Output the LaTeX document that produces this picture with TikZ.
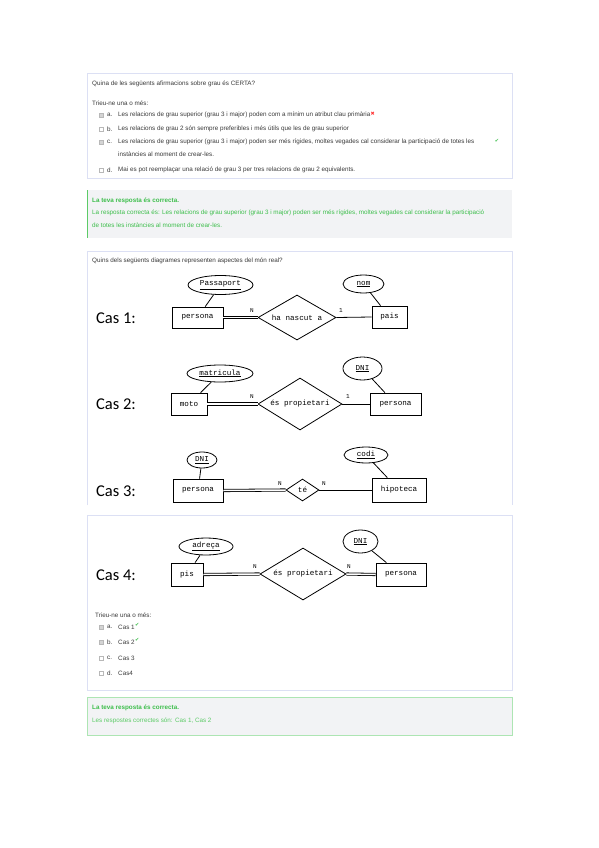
\documentclass[tikz,border=0pt]{standalone}
\usepackage{fontspec}
\setmainfont{Liberation Sans}
\setmonofont{Liberation Mono}
\newfontfamily\casfont{Carlito}
\newfontfamily\symfont{DejaVu Sans}
\usetikzlibrary{shapes.geometric}
\definecolor{qborder}{HTML}{DCE0F4}
\definecolor{fbfill}{HTML}{F2F3F5}
\definecolor{okgreen}{HTML}{3DBE4B}
\definecolor{okgreenlight}{HTML}{5CCB67}
\definecolor{uitext}{HTML}{3A3A3A}
\definecolor{boxgrey}{HTML}{B8B8B8}
\tikzset{
  ui/.style={anchor=west, inner sep=0pt, font=\fontsize{6.3}{7}\selectfont, text=uitext},
  uig/.style={anchor=west, inner sep=0pt, font=\fontsize{6.3}{7}\selectfont, text=okgreen},
  uigb/.style={anchor=west, inner sep=0pt, font=\bfseries\fontsize{6.3}{7}\selectfont, text=okgreen},
  chk/.style={draw=boxgrey, fill=#1, line width=0.3pt, minimum size=3.6pt, inner sep=0pt},
  ent/.style={draw, line width=0.8pt, inner sep=0pt, font=\ttfamily\fontsize{7.6}{8}\selectfont},
  attr/.style={draw, ellipse, line width=0.8pt, inner sep=0pt, font=\ttfamily\fontsize{7.6}{8}\selectfont},
  rel/.style={draw, diamond, aspect=1.6, line width=0.8pt, inner sep=0pt, font=\ttfamily\fontsize{7.6}{8}\selectfont},
  dbl/.style={double, double distance=1.5pt, line width=0.8pt},
  sgl/.style={line width=0.8pt},
  card/.style={inner sep=0pt, font=\ttfamily\fontsize{6}{6}\selectfont},
  cas/.style={anchor=west, inner sep=0pt, font=\casfont\fontsize{16.5}{18}\selectfont},
  tick/.style={inner sep=0pt, text=okgreen, font=\symfont\fontsize{5}{5}\selectfont},
  cross/.style={inner sep=0pt, text=red!80!white, font=\symfont\fontsize{5}{5}\selectfont}
}
\begin{document}
\begin{tikzpicture}[x=1pt,y=-1pt]
\useasboundingbox[fill=white] (0,0) rectangle (599,848);

% ---------------- Question 1 ----------------
\draw[qborder, line width=0.8pt] (87,73) rectangle (512,178);
\node[ui] (q1) at (92,84) {Quina de les següents afirmacions sobre grau és CERTA?};
\node[ui] (q1t) at (92,103) {Trieu-ne una o més:};
\node[chk=boxgrey!60] (c1a) at (101,115) {};
\node[ui] (l1a) at (107,115) {a.};
\node[ui] (o1a) at (118,115) {Les relacions de grau superior (grau 3 i major) poden com a mínim un atribut clau primària};
\node[cross, anchor=west] (x1a) at ([yshift=1.5pt]o1a.east) {✖};
\node[chk=white] (c1b) at (101,129) {};
\node[ui] (l1b) at (107,129) {b.};
\node[ui] (o1b) at (118,129) {Les relacions de grau 2 són sempre preferibles i més útils que les de grau superior};
\node[chk=boxgrey!60] (c1c) at (101,142) {};
\node[ui] (l1c) at (107,142) {c.};
\node[ui] (o1c) at (118,142) {Les relacions de grau superior (grau 3 i major) poden ser més rígides, moltes vegades cal considerar la participació de totes les};
\node[ui] (o1c2) at (118,154) {instàncies al moment de crear-les.};
\node[tick] (t1c) at (497,141) {✔};
\node[chk=white] (c1d) at (101,170) {};
\node[ui] (l1d) at (107,170) {d.};
\node[ui] (o1d) at (118,170) {Mai es pot reemplaçar una relació de grau 3 per tres relacions de grau 2 equivalents.};

% feedback 1
\fill[fbfill] (87,190) rectangle (512,238);
\draw[okgreenlight, line width=1pt] (87.5,190) -- (87.5,238);
\node[uigb] (f1t) at (92,201) {La teva resposta és correcta.};
\node[uig] (f1a) at (92,213) {La resposta correcta és: Les relacions de grau superior (grau 3 i major) poden ser més rígides, moltes vegades cal considerar la participació};
\node[uig] (f1b) at (92,225) {de totes les instàncies al moment de crear-les.};

% ---------------- Question 2 ----------------
\draw[qborder, line width=0.8pt] (87,505) -- (87,251) -- (512,251) -- (512,505);
\draw[qborder, line width=0.8pt] (87,515) rectangle (512,690);
\node[ui] (q2) at (92,261) {Quins dels següents diagrames representen aspectes del món real?};

% Cas 1
\node[cas] (cas1) at (96,318) {Cas 1:};
\node[ent, minimum width=51pt, minimum height=21pt] (p1) at (197.5,317.5) {persona};
\node[attr, minimum width=65pt, minimum height=19pt] (a1) at (220.5,285) {\underline{Passaport}};
\node[rel, minimum width=78pt, minimum height=45pt] (r1) at (297,317.5) {ha nascut a};
\node[ent, minimum width=35pt, minimum height=22pt] (e1) at (389.5,317) {pais};
\node[attr, minimum width=41pt, minimum height=18pt] (b1) at (363.5,284) {\underline{nom}};
\node[card] (n1) at (252,311) {N};
\node[card] (m1) at (341,311) {1};
\draw[sgl] (a1) -- (p1);
\draw[sgl] (b1) -- (e1);
\draw[dbl] (p1.east) -- (r1.west);
\draw[sgl] (r1.east) -- (e1.west);

% Cas 2
\node[cas] (cas2) at (96,404) {Cas 2:};
\node[ent, minimum width=36pt, minimum height=22pt] (p2) at (189,404) {moto};
\node[attr, minimum width=66pt, minimum height=17pt] (a2) at (220,373.5) {\underline{matricula}};
\node[rel, minimum width=84pt, minimum height=52pt] (r2) at (300,404) {és propietari};
\node[ent, minimum width=51pt, minimum height=22pt] (e2) at (395.5,404) {persona};
\node[attr, minimum width=39pt, minimum height=23pt] (b2) at (362.5,368.5) {\underline{DNI}};
\node[card] (n2) at (252,397) {N};
\node[card] (m2) at (348,397) {1};
\draw[sgl] (a2) -- (p2);
\draw[sgl] (b2) -- (e2);
\draw[dbl] (p2.east) -- (r2.west);
\draw[sgl] (r2.east) -- (e2.west);

% Cas 3
\node[cas] (cas3) at (96,491) {Cas 3:};
\node[ent, minimum width=50pt, minimum height=23pt] (p3) at (198,490.5) {persona};
\node[attr, minimum width=30pt, minimum height=16pt] (a3) at (202,460) {\underline{DNI}};
\node[rel, minimum width=33pt, minimum height=22pt] (r3) at (302.5,490) {té};
\node[ent, minimum width=54pt, minimum height=24pt] (e3) at (399,490) {hipoteca};
\node[attr, minimum width=44pt, minimum height=16pt] (b3) at (366,455) {\underline{codi}};
\node[card] (n3) at (280,484) {N};
\node[card] (m3) at (324,484) {N};
\draw[sgl] (a3) -- (p3);
\draw[sgl] (b3) -- (e3);
\draw[dbl] (p3.east) -- (r3.west);
\draw[sgl] (r3.east) -- (e3.west);

% Cas 4
\node[cas] (cas4) at (96,575) {Cas 4:};
\node[ent, minimum width=32pt, minimum height=23pt] (p4) at (187,574.5) {pis};
\node[attr, minimum width=54pt, minimum height=17pt] (a4) at (206,546.5) {\underline{adreça}};
\node[rel, minimum width=86pt, minimum height=52pt] (r4) at (303,574) {és propietari};
\node[ent, minimum width=50pt, minimum height=23pt] (e4) at (401,574.5) {persona};
\node[attr, minimum width=35pt, minimum height=23pt] (b4) at (360.5,541.5) {\underline{DNI}};
\node[card] (n4) at (255,567) {N};
\node[card] (m4) at (349,567) {N};
\draw[sgl] (a4) -- (p4);
\draw[sgl] (b4) -- (e4);
\draw[dbl] (p4.east) -- (r4.west);
\draw[dbl] (r4.east) -- (e4.west);

% answers
\node[ui] (q2t) at (95,615) {Trieu-ne una o més:};
\node[chk=boxgrey!60] (c2a) at (101,627) {};
\node[ui] (l2a) at (107,627) {a.};
\node[ui] (o2a) at (118,627) {Cas 1};
\node[tick, anchor=west] (t2a) at ([yshift=2pt]o2a.east) {✔};
\node[chk=boxgrey!60] (c2b) at (101,642) {};
\node[ui] (l2b) at (107,642) {b.};
\node[ui] (o2b) at (118,642) {Cas 2};
\node[tick, anchor=west] (t2b) at ([yshift=2pt]o2b.east) {✔};
\node[chk=white] (c2c) at (101,658) {};
\node[ui] (l2c) at (107,658) {c.};
\node[ui] (o2c) at (118,658) {Cas 3};
\node[chk=white] (c2d) at (101,673) {};
\node[ui] (l2d) at (107,673) {d.};
\node[ui] (o2d) at (118,673) {Cas4};

% feedback 2
\draw[fill=fbfill, draw=okgreenlight!50, line width=0.8pt] (87,697) rectangle (512,735);
\node[uigb] (f2t) at (92,708) {La teva resposta és correcta.};
\node[uig, text=okgreenlight] (f2a) at (92,721) {Les respostes correctes són: Cas 1, Cas 2};
\end{tikzpicture}
\end{document}
